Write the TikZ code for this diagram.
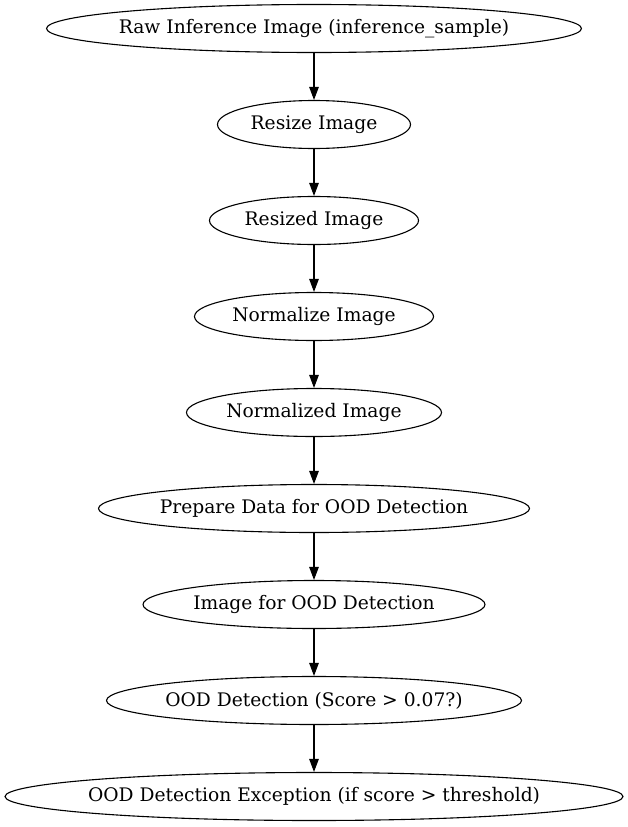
\documentclass[tikz,border=0pt]{standalone}
\usepackage{fontspec}
\setmainfont{DejaVu Serif}
\usetikzlibrary{arrows.meta,shapes.geometric,positioning}

\begin{document}
\begin{tikzpicture}[x=1pt, y=1pt, line width=1.1pt, >={Triangle[length=13pt,width=9.5pt]},
   stage/.style={ellipse, draw, minimum height=48pt, inner sep=0pt,
      font=\fontsize{18.67pt}{22pt}\selectfont,
      execute at begin node={\hbox to 0pt\bgroup\hss},
      execute at end node={\hss\egroup}}]
   \useasboundingbox (0,0) rectangle (628,-827);
   \node (raw) at (314,-28.5) [stage, minimum width=535pt] {Raw Inference Image (inference\_sample)};
   \node (resize) at (314,-124.5) [stage, minimum width=193pt] {Resize Image};
   \node (resized) at (314,-220.5) [stage, minimum width=209pt] {Resized Image};
   \node (normalize) at (314,-316.5) [stage, minimum width=239pt] {Normalize Image};
   \node (normalized) at (314,-412.5) [stage, minimum width=255pt] {Normalized Image};
   \node (prepare) at (314,-508.5) [stage, minimum width=431pt] {Prepare Data for OOD Detection};
   \node (oodimg) at (314,-604.5) [stage, minimum width=342pt] {Image for OOD Detection};
   \node (detect) at (314,-700.5) [stage, minimum width=415pt] {OOD Detection (Score > 0.07?)};
   \node (except) at (314,-796.5) [stage, minimum width=618pt] {OOD Detection Exception (if score > threshold)};
   \draw[->] (raw) -- (resize);
   \draw[->] (resize) -- (resized);
   \draw[->] (resized) -- (normalize);
   \draw[->] (normalize) -- (normalized);
   \draw[->] (normalized) -- (prepare);
   \draw[->] (prepare) -- (oodimg);
   \draw[->] (oodimg) -- (detect);
   \draw[->] (detect) -- (except);
\end{tikzpicture}
\end{document}
